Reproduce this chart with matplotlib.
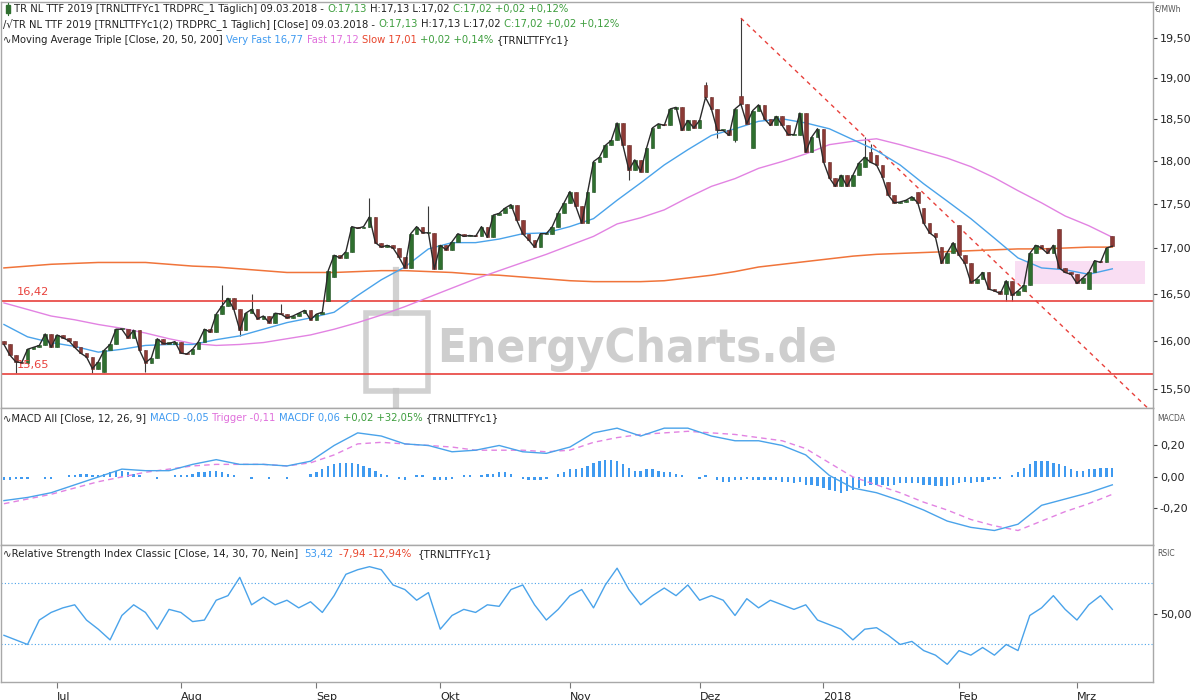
import numpy as np
import pandas as pd
import matplotlib
matplotlib.use("Agg")
import matplotlib.pyplot as plt
from matplotlib.patches import Rectangle
from matplotlib.lines import Line2D
from matplotlib.ticker import FixedLocator, NullLocator, FuncFormatter

# ---------------- data ----------------
last_date = "2018-03-09"

closes = [
    15.96, 15.85, 15.78, 15.77, 15.91, 15.93, 15.95, 16.07, 15.93, 16.06,
    16.03, 16.00, 15.93, 15.87, 15.83, 15.71, 15.78, 15.90, 15.96, 16.12,
    16.12, 16.03, 16.11, 15.90, 15.77, 15.82, 16.02, 15.97, 15.97, 15.99,
    15.87, 15.86, 15.91, 15.99, 16.12, 16.09, 16.28, 16.37, 16.45, 16.33,
    16.11, 16.29, 16.33, 16.23, 16.26, 16.19, 16.29, 16.28, 16.24, 16.26,
    16.29, 16.32, 16.22, 16.28, 16.30, 16.75, 16.92, 16.89, 16.96, 17.24,
    17.22, 17.24, 17.35, 17.06, 17.01, 17.03, 17.00, 16.90, 16.78, 17.16,
    17.24, 17.17, 17.17, 16.77, 17.03, 16.98, 17.07, 17.16, 17.13, 17.14,
    17.13, 17.24, 17.12, 17.37, 17.39, 17.45, 17.49, 17.31, 17.16, 17.09,
    17.01, 17.16, 17.16, 17.24, 17.39, 17.51, 17.64, 17.47, 17.28, 17.63,
    17.99, 18.04, 18.18, 18.24, 18.45, 18.18, 17.89, 18.01, 17.87, 18.15,
    18.39, 18.44, 18.42, 18.62, 18.64, 18.36, 18.48, 18.39, 18.48, 18.76,
    18.62, 18.36, 18.36, 18.30, 18.62, 18.68, 18.44, 18.60, 18.67, 18.50,
    18.42, 18.53, 18.42, 18.31, 18.31, 18.57, 18.10, 18.28, 18.38, 17.99,
    17.80, 17.70, 17.83, 17.70, 17.83, 17.97, 18.04, 17.98, 17.95, 17.81,
    17.60, 17.51, 17.52, 17.54, 17.58, 17.51, 17.28, 17.17, 17.12, 16.83,
    16.95, 17.06, 16.92, 16.83, 16.62, 16.66, 16.73, 16.55, 16.53, 16.50,
    16.64, 16.48, 16.53, 16.59, 16.94, 17.03, 17.00, 16.94, 17.03, 16.78,
    16.73, 16.71, 16.61, 16.67, 16.73, 16.86, 16.84, 17.00, 17.02,
]

opens = [
    16.00, 15.96, 15.85, 15.78, 15.77, 15.91, 15.93, 15.95, 16.07, 15.93,
    16.06, 16.03, 16.00, 15.93, 15.87, 15.83, 15.71, 15.68, 15.90, 15.96,
    16.12, 16.12, 16.03, 16.11, 15.90, 15.77, 15.82, 16.02, 15.97, 15.97,
    15.99, 15.87, 15.86, 15.91, 15.99, 16.12, 16.09, 16.28, 16.37, 16.45,
    16.33, 16.11, 16.29, 16.33, 16.23, 16.26, 16.19, 16.29, 16.28, 16.24,
    16.26, 16.29, 16.32, 16.22, 16.28, 16.42, 16.68, 16.92, 16.89, 16.96,
    17.24, 17.22, 17.24, 17.35, 17.06, 17.01, 17.03, 17.00, 16.90, 16.78,
    17.16, 17.24, 17.17, 17.17, 16.77, 17.03, 16.98, 17.07, 17.16, 17.13,
    17.14, 17.13, 17.24, 17.12, 17.37, 17.39, 17.45, 17.49, 17.31, 17.16,
    17.09, 17.01, 17.16, 17.16, 17.24, 17.39, 17.51, 17.64, 17.47, 17.28,
    17.63, 17.99, 18.04, 18.18, 18.24, 18.45, 18.18, 17.89, 18.01, 17.87,
    18.15, 18.39, 18.44, 18.42, 18.62, 18.64, 18.36, 18.48, 18.39, 18.92,
    18.76, 18.62, 18.36, 18.36, 18.25, 18.78, 18.68, 18.15, 18.60, 18.67,
    18.50, 18.42, 18.53, 18.42, 18.31, 18.31, 18.57, 18.10, 18.28, 18.38,
    17.99, 17.80, 17.70, 17.83, 17.70, 17.83, 17.93, 18.10, 18.07, 17.95,
    17.75, 17.60, 17.51, 17.52, 17.54, 17.64, 17.45, 17.28, 17.17, 17.01,
    16.83, 16.95, 17.26, 16.92, 16.83, 16.62, 16.66, 16.73, 16.55, 16.53,
    16.50, 16.64, 16.48, 16.53, 16.59, 16.94, 17.03, 17.00, 16.94, 17.21,
    16.78, 16.73, 16.71, 16.61, 16.55, 16.73, 16.86, 16.84, 17.13,
]

# notable wicks (session number -> price)
high_spikes = {37: 16.59, 42: 16.50, 47: 16.39, 62: 17.57, 72: 17.47,
               119: 18.95, 125: 19.76, 146: 18.28, 147: 18.20}
low_spikes = {2: 15.66, 15: 15.66, 24: 15.67, 40: 16.05, 106: 17.77,
              121: 18.27, 124: 18.22, 170: 16.42, 171: 16.42}

# moving averages, one value every 4th session
ma_step = 4
ma_very_fast = [16.17, 16.04, 15.98, 15.94, 15.88, 15.91, 15.95, 15.96, 15.96, 16.01,
                16.05, 16.12, 16.19, 16.24, 16.30, 16.48, 16.65, 16.79, 16.99, 17.06,
                17.06, 17.10, 17.16, 17.17, 17.24, 17.33, 17.54, 17.74, 17.95, 18.13,
                18.30, 18.38, 18.47, 18.50, 18.45, 18.38, 18.25, 18.12, 17.95, 17.73,
                17.53, 17.33, 17.11, 16.89, 16.78, 16.76, 16.71, 16.77]
ma_fast = [16.40, 16.33, 16.26, 16.22, 16.17, 16.13, 16.08, 16.02, 15.97, 15.95,
           15.96, 15.98, 16.02, 16.06, 16.12, 16.19, 16.27, 16.36, 16.46, 16.56,
           16.66, 16.75, 16.84, 16.93, 17.03, 17.13, 17.27, 17.34, 17.43, 17.57,
           17.70, 17.79, 17.91, 17.99, 18.08, 18.19, 18.23, 18.26, 18.19, 18.11,
           18.03, 17.93, 17.80, 17.65, 17.51, 17.36, 17.25, 17.12]
ma_slow = [16.78, 16.80, 16.82, 16.83, 16.84, 16.84, 16.84, 16.82, 16.80, 16.79,
           16.77, 16.75, 16.73, 16.73, 16.73, 16.74, 16.75, 16.75, 16.74, 16.73,
           16.71, 16.70, 16.68, 16.66, 16.64, 16.63, 16.63, 16.63, 16.64, 16.67,
           16.70, 16.74, 16.79, 16.82, 16.85, 16.88, 16.91, 16.93, 16.94, 16.95,
           16.96, 16.97, 16.98, 16.99, 16.99, 17.00, 17.01, 17.01]

# MACD lines, one value every 4th session; histogram daily
macd_step = 4
macd_line = [-0.15, -0.13, -0.10, -0.05, 0.00, 0.05, 0.04, 0.04, 0.08, 0.11,
             0.08, 0.08, 0.07, 0.10, 0.20, 0.28, 0.26, 0.21, 0.20, 0.16,
             0.17, 0.20, 0.16, 0.15, 0.19, 0.28, 0.31, 0.26, 0.31, 0.31,
             0.26, 0.23, 0.23, 0.20, 0.14, 0.01, -0.07, -0.10, -0.15, -0.21,
             -0.28, -0.32, -0.34, -0.30, -0.18, -0.14, -0.10, -0.05]
macd_trigger = [-0.17, -0.14, -0.11, -0.07, -0.03, 0.00, 0.03, 0.05, 0.07, 0.08,
                0.08, 0.08, 0.07, 0.09, 0.14, 0.21, 0.22, 0.21, 0.20, 0.19,
                0.17, 0.17, 0.17, 0.16, 0.17, 0.22, 0.25, 0.27, 0.28, 0.29,
                0.28, 0.27, 0.25, 0.23, 0.18, 0.09, 0.00, -0.05, -0.10, -0.16,
                -0.21, -0.27, -0.31, -0.34, -0.28, -0.22, -0.17, -0.11]
macdf_hist = [
    -0.02, -0.02, -0.01, -0.01, -0.01, 0.00, 0.00, -0.01, -0.01,
    0.00, 0.00, 0.01, 0.01, 0.02, 0.02, 0.01, 0.01,
    0.02, 0.03, 0.04, 0.04, 0.03, 0.02,
    0.01, 0.00, 0.00, -0.01, 0.00, 0.00, 0.01, 0.01,
    0.01, 0.02, 0.03, 0.03, 0.04, 0.04, 0.03, 0.02,
    0.01, 0.00, 0.00, -0.01, 0.00, 0.00, -0.01, 0.00, 0.00, -0.01, 0.00, 0.00,
    0.00, 0.02, 0.03, 0.05, 0.07, 0.08, 0.09, 0.09, 0.09, 0.08, 0.07, 0.06,
    0.04, 0.02, 0.01, 0.00, -0.01, -0.02, 0.00, 0.01, 0.01, 0.00, -0.02, -0.02,
    -0.02, -0.01, 0.00, 0.01, 0.01, 0.00, 0.01, 0.02, 0.02, 0.03, 0.03, 0.02, 0.00, -0.01, -0.02, -0.02,
    -0.02, -0.01, 0.00, 0.02, 0.03, 0.05, 0.05, 0.06, 0.07, 0.09,
    0.10, 0.11, 0.11, 0.10, 0.08, 0.06, 0.04, 0.04, 0.05, 0.05,
    0.04, 0.03, 0.03, 0.02, 0.01, 0.00, 0.00, -0.01, 0.01, 0.00,
    -0.02, -0.03, -0.03, -0.02, -0.02, -0.01, -0.02, -0.02, -0.02, -0.02,
    -0.02, -0.03, -0.03, -0.04, -0.03, -0.05, -0.05, -0.06, -0.07, -0.08,
    -0.09, -0.10, -0.09, -0.08, -0.07, -0.06, -0.05, -0.05, -0.05, -0.06,
    -0.05, -0.04, -0.04, -0.04, -0.04, -0.05, -0.05, -0.06, -0.06, -0.06,
    -0.05, -0.04, -0.03, -0.04, -0.03, -0.03, -0.02, -0.01, -0.01, 0.00,
    0.01, 0.03, 0.06, 0.08, 0.10, 0.10, 0.10, 0.09, 0.08, 0.07,
    0.05, 0.04, 0.04, 0.05, 0.05, 0.06, 0.06, 0.06,
]

# RSI, one value every 2nd session
rsi_step = 2
rsi_values = [
    36, 33, 30, 46, 51, 54, 56, 46, 40, 33,
    49, 56, 51, 40, 53, 51, 45, 46, 59, 62,
    74, 56, 61, 56, 59, 54, 58, 51, 62, 76,
    79, 81, 79, 69, 66, 59, 64, 40, 49, 53,
    51, 56, 55, 66, 69, 56, 46, 53, 62, 66,
    54, 69, 80, 66, 56, 62, 67, 62, 69, 59,
    62, 59, 49, 60, 54, 59, 56, 53, 56, 46,
    43, 40, 33, 40, 41, 36, 30, 32, 26, 23,
    17, 26, 23, 28, 23, 30, 26, 49, 54, 62,
    53, 46, 56, 62, 53,
]
rsi_bands = [30, 70]

support_levels = [16.42, 15.65]
support_labels = ["16,42", "15,65"]
trend_points = [("2017-12-12", 19.76), ("2018-03-19", 15.31)]
zone_dates = ("2018-02-14", "2018-03-16")
zone_prices = (16.60, 16.86)

month_labels = ["Jul", "Aug", "Sep", "Okt", "Nov", "Dez", "2018", "Feb", "Mrz"]
price_ticks = [15.5, 16.0, 16.5, 17.0, 17.5, 18.0, 18.5, 19.0, 19.5]
macd_ticks = [-0.2, 0.0, 0.2]
rsi_ticks = [50]

# ---------------- styling ----------------
W, H = 1200, 700
GREEN_BODY = "#2f6f2f"
RED_BODY = "#8c3a36"
WICK = "#3a3a3a"
C_BLUE = "#4aa3ea"
C_PINK = "#e283e2"
C_ORANGE = "#f0743a"
C_RED = "#e8413c"
T_GREEN = "#3e9e3e"
T_BLUE = "#3f9af0"
T_PINK = "#e070dc"
T_RED = "#e8452c"
SPINE = "#a8a8a8"
TXT = "#222222"
FONT = "DejaVu Sans"

plt.rcParams["font.family"] = [FONT]

fig = plt.figure(figsize=(12, 7), dpi=100)
fig.patch.set_facecolor("white")


def fx(x):
    return x / W


def fy(y):
    return 1 - y / H


RIGHT = 1153
ax1 = fig.add_axes([fx(1), fy(408), fx(RIGHT - 1), (408 - 2) / H])
ax2 = fig.add_axes([fx(1), fy(545), fx(RIGHT - 1), (545 - 408) / H], sharex=ax1)
ax3 = fig.add_axes([fx(1), fy(682), fx(RIGHT - 1), (682 - 545) / H], sharex=ax1)

n = len(closes)
dates = pd.bdate_range(end=last_date, periods=n)
idx = np.arange(n)


def pos(d):
    return float(np.busday_count(dates[0].date(), pd.Timestamp(d).date()))


o = np.array(opens, dtype=float)
c = np.array(closes, dtype=float)
hi = np.maximum(o, c)
lo = np.minimum(o, c)
for k, v in high_spikes.items():
    hi[k] = max(hi[k], v)
for k, v in low_spikes.items():
    lo[k] = min(lo[k], v)
up = c >= o
dn = ~up

# ---------------- main price panel ----------------
ax1.set_yscale("log")
ax1.vlines(idx, lo, hi, color=WICK, lw=0.8, zorder=2)
body_up = np.maximum(c - o, 0.012)
body_dn = np.maximum(o - c, 0.012)
ax1.bar(idx[up], body_up[up], bottom=o[up], width=0.62, color=GREEN_BODY,
        edgecolor="#1f4f1f", lw=0.4, zorder=3)
ax1.bar(idx[dn], body_dn[dn], bottom=c[dn], width=0.62, color=RED_BODY,
        edgecolor="#6a2a26", lw=0.4, zorder=3)
ax1.plot(idx, c, color="#2a2a2a", lw=1.0, zorder=4)

ma_x = idx[::ma_step][:len(ma_slow)]
ax1.plot(ma_x, ma_slow, color=C_ORANGE, lw=1.1, zorder=2.5)
ax1.plot(ma_x, ma_fast, color=C_PINK, lw=1.0, zorder=2.5)
ax1.plot(ma_x, ma_very_fast, color=C_BLUE, lw=1.0, zorder=2.5)

for lvl, lab in zip(support_levels, support_labels):
    ax1.axhline(lvl, color=C_RED, lw=1.2, zorder=2.2)
    ax1.annotate(lab, xy=(0, lvl), xycoords=("axes fraction", "data"),
                 xytext=(11, 3), textcoords="offset points", color=C_RED,
                 fontsize=8.2, va="bottom", ha="left")

(t0, p0), (t1, p1) = trend_points
ax1.plot([pos(t0), pos(t1)], [p0, p1], color=C_RED, lw=1.0,
         dashes=(3, 3), zorder=2.3)

z0 = pos(zone_dates[0]) + 0.5
z1 = pos(zone_dates[1]) + 0.5
ax1.add_patch(Rectangle((z0, zone_prices[0]), z1 - z0,
                        zone_prices[1] - zone_prices[0],
                        facecolor="#f6c8ec", alpha=0.6, edgecolor="none",
                        zorder=1.5))

ax1.set_ylim(15.31, 19.97)
ax1.set_xlim(-0.5, 194.9)
ax1.yaxis.set_major_locator(FixedLocator(price_ticks))
ax1.yaxis.set_minor_locator(NullLocator())
ax1.yaxis.set_major_formatter(FuncFormatter(lambda v, p: f"{v:.2f}".replace(".", ",")))

# watermark (behind data)
WM = "#c6c6c6"
ax1.text(fx(437), fy(350), "EnergyCharts.de", transform=fig.transFigure,
         fontsize=34, fontweight="bold", fontstretch="condensed", color=WM,
         alpha=0.85, family=["DejaVu Sans"], va="center", ha="left", zorder=0.5)
ax1.add_patch(Rectangle((fx(366), fy(391)), fx(428) - fx(366), fy(313) - fy(391),
                        transform=fig.transFigure, fill=False,
                        edgecolor=WM, lw=4, alpha=0.8, zorder=0.5))
ax1.add_line(Line2D([fx(396), fx(396)], [fy(270), fy(313)],
                    transform=fig.transFigure, color=WM, lw=4.5,
                    alpha=0.8, zorder=0.5))
ax1.add_line(Line2D([fx(396), fx(396)], [fy(391), fy(405)],
                    transform=fig.transFigure, color=WM, lw=4.5,
                    alpha=0.8, zorder=0.5))

# ---------------- MACD panel ----------------
ax2.bar(idx[:len(macdf_hist)], macdf_hist, width=0.4, color="#3f9af0",
        zorder=2)
mx = idx[::macd_step][:len(macd_line)]
ax2.plot(mx, macd_trigger, color=C_PINK, lw=1.0, dashes=(4, 3), zorder=3)
ax2.plot(mx, macd_line, color=C_BLUE, lw=1.0, zorder=3)
ax2.set_ylim(-0.432, 0.438)
ax2.yaxis.set_major_locator(FixedLocator(macd_ticks))
ax2.yaxis.set_major_formatter(FuncFormatter(lambda v, p: f"{v:.2f}".replace(".", ",")))

# ---------------- RSI panel ----------------
rx = idx[::rsi_step][:len(rsi_values)]
for b in rsi_bands:
    ax3.axhline(b, color=C_BLUE, lw=0.8, ls=(0, (1, 2)), zorder=1)
ax3.plot(rx, rsi_values, color=C_BLUE, lw=1.0, zorder=3)
ax3.set_ylim(5.4, 95.2)
ax3.yaxis.set_major_locator(FixedLocator(rsi_ticks))
ax3.yaxis.set_major_formatter(FuncFormatter(lambda v, p: f"{v:.2f}".replace(".", ",")))

# ---------------- axes cosmetics ----------------
month_pos = [i for i in range(1, n) if dates[i].month != dates[i - 1].month]
for ax in (ax1, ax2, ax3):
    ax.set_facecolor("white")
    for s in ax.spines.values():
        s.set_color(SPINE)
        s.set_linewidth(1.0)
    ax.yaxis.tick_right()
    ax.tick_params(axis="y", direction="out", length=3, width=0.8,
                   colors="#444444", labelsize=8, labelcolor=TXT, pad=2)
ax3.set_xticks(month_pos)
ax3.set_xticklabels(month_labels[:len(month_pos)])
for lbl in ax3.get_xticklabels():
    lbl.set_horizontalalignment("left")
ax3.tick_params(axis="x", direction="out", length=4, width=0.8,
                colors="#777777", labelsize=8, labelcolor=TXT, pad=3)
for ax in (ax1, ax2):
    ax.tick_params(axis="x", length=0, labelbottom=False)

# ---------------- legends (multi-coloured text rows) ----------------
renderer = fig.canvas.get_renderer()


def rich(x, y, parts, size=8.0, gap=3.5):
    for s, col in parts:
        t = fig.text(fx(x), fy(y), s, color=col, fontsize=size, ha="left",
                     va="center", family=FONT, fontstretch="condensed")
        bb = t.get_window_extent(renderer=renderer)
        x += bb.width + gap


fig.add_artist(Line2D([fx(8), fx(8)], [fy(3), fy(15)], transform=fig.transFigure,
                      color=GREEN_BODY, lw=0.8))
fig.add_artist(Rectangle((fx(6), fy(13)), 4 / W, 8 / H, transform=fig.transFigure,
                         color=GREEN_BODY))
rich(14, 9, [("TR NL TTF 2019 [TRNLTTFYc1 TRDPRC_1 Täglich] 09.03.2018 -", TXT),
             ("O:17,13", T_GREEN), ("H:17,13 L:17,02", TXT),
             ("C:17,02 +0,02 +0,12%", T_GREEN)])
rich(3, 24, [("/\u221aTR NL TTF 2019 [TRNLTTFYc1(2) TRDPRC_1 Täglich] [Close] 09.03.2018 -", TXT),
             ("O:17,13", T_GREEN), ("H:17,13 L:17,02", TXT),
             ("C:17,02 +0,02 +0,12%", T_GREEN)])
rich(3, 40, [("\u223fMoving Average Triple [Close, 20, 50, 200]", TXT),
             ("Very Fast 16,77", T_BLUE), ("Fast 17,12", T_PINK),
             ("Slow 17,01", T_RED), ("+0,02 +0,14%", T_GREEN),
             ("{TRNLTTFYc1}", TXT)])
rich(3, 418, [("\u223fMACD All [Close, 12, 26, 9]", TXT), ("MACD -0,05", T_BLUE),
              ("Trigger -0,11", T_PINK), ("MACDF 0,06", T_BLUE),
              ("+0,02 +32,05%", T_GREEN), ("{TRNLTTFYc1}", TXT)])
rich(3, 554, [("\u223fRelative Strength Index Classic [Close, 14, 30, 70, Nein]", TXT),
              ("53,42", T_BLUE), ("-7,94 -12,94%", T_RED), ("{TRNLTTFYc1}", TXT)],
     size=8.2, gap=6)

fig.text(fx(1155), fy(9), "€/MWh", fontsize=5.5, color="#555555", va="center")
fig.text(fx(1157), fy(418), "MACDA", fontsize=5.5, color="#555555", va="center")
fig.text(fx(1157), fy(554), "RSIC", fontsize=5.5, color="#555555", va="center")

fig.savefig("out.png", dpi=100, facecolor="white")
